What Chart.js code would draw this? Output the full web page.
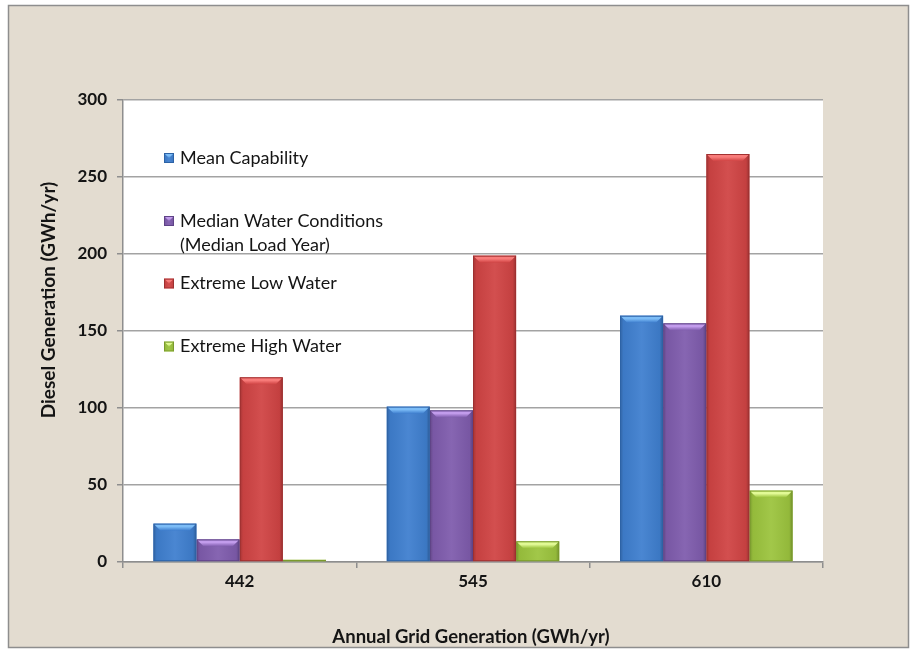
<!DOCTYPE html>
<html>
<head>
<meta charset="utf-8">
<script src="https://cdn.jsdelivr.net/npm/chart.js@4.4.1/dist/chart.umd.min.js"></script>
<style>
  html, body { margin: 0; padding: 0; background: #ffffff; overflow: hidden; }
  #c { display: block; }
</style>
</head>
<body>
<canvas id="c" width="917" height="654"></canvas>
<script>
// Annual grid generation scenarios (GWh/yr)
const categories = ['442', '545', '610'];

// Diesel generation per scenario (GWh/yr)
const meanCapability = [25, 101, 160];
const medianWater = [14.7, 98.5, 155];
const extremeLowWater = [120, 199, 265];
const extremeHighWater = [1.5, 13.5, 46.5];

const seriesLabels = ['Mean Capability', 'Median Water Conditions (Median Load Year)', 'Extreme Low Water', 'Extreme High Water'];
const legendLines = [['Mean Capability'], ['Median Water Conditions', '(Median Load Year)'], ['Extreme Low Water'], ['Extreme High Water']];

const yTicks = [0, 50, 100, 150, 200, 250, 300];
const yTitle = 'Diesel Generation (GWh/yr)';
const xTitle = 'Annual Grid Generation (GWh/yr)';

// face, light bevel, dark edge
const palette = [
  { face: '#3f7fcf', light: '#7cbcf6', dark: '#2d63a6' },
  { face: '#7f5cad', light: '#c29cec', dark: '#5f4387' },
  { face: '#d04444', light: '#f87c7a', dark: '#9e3030' },
  { face: '#9cc43e', light: '#e2fa96', dark: '#7a9a2c' }
];

const FONT = 'Lato, "Open Sans", "DejaVu Sans", sans-serif';
const TEXT = '#141414';

const framePlugin = {
  id: 'frame',
  beforeDraw(chart) {
    const ctx = chart.ctx;
    const a = chart.chartArea;
    ctx.save();
    ctx.fillStyle = '#ffffff';
    ctx.fillRect(0, 0, chart.width, chart.height);
    ctx.fillStyle = '#e3dcd0';
    ctx.fillRect(8, 5, 901, 643);
    ctx.strokeStyle = '#8e8e8e';
    ctx.lineWidth = 1.5;
    ctx.strokeRect(8.5, 5.5, 900, 642);
    ctx.fillStyle = '#ffffff';
    ctx.fillRect(a.left, a.top, a.right - a.left, a.bottom - a.top);
    ctx.restore();
  }
};

function bevel(ctx, left, top, right, bottom, col) {
  const w = right - left, h = bottom - top;
  if (h <= 0) return;
  ctx.save();
  ctx.beginPath();
  ctx.rect(left, top, w, h);
  ctx.clip();
  const g = ctx.createLinearGradient(left, 0, right, 0);
  g.addColorStop(0, 'rgba(0,0,0,0.22)');
  g.addColorStop(0.08, 'rgba(0,0,0,0.05)');
  g.addColorStop(0.5, 'rgba(255,255,255,0.06)');
  g.addColorStop(0.92, 'rgba(0,0,0,0.06)');
  g.addColorStop(1, 'rgba(0,0,0,0.28)');
  ctx.fillStyle = g;
  ctx.fillRect(left, top, w, h);
  const b = Math.min(6, h / 2);
  const tg = ctx.createLinearGradient(0, top, 0, top + b + 1);
  tg.addColorStop(0, col.light);
  tg.addColorStop(0.45, col.light);
  tg.addColorStop(1, col.face);
  ctx.fillStyle = tg;
  ctx.beginPath();
  ctx.moveTo(left + 1, top + 1);
  ctx.lineTo(right - 1, top + 1);
  ctx.lineTo(right - 1 - b, top + 1 + b);
  ctx.lineTo(left + 1 + b, top + 1 + b);
  ctx.closePath();
  ctx.fill();
  ctx.strokeStyle = col.dark;
  ctx.lineWidth = 1;
  ctx.strokeRect(left + 0.5, top + 0.5, w - 1, h - 1);
  ctx.restore();
}

const bevelPlugin = {
  id: 'bevel',
  afterDatasetsDraw(chart) {
    const ctx = chart.ctx;
    chart.data.datasets.forEach((ds, i) => {
      const meta = chart.getDatasetMeta(i);
      meta.data.forEach(bar => {
        const p = bar.getProps(['x', 'y', 'base', 'width'], true);
        bevel(ctx, p.x - p.width / 2, Math.min(p.y, p.base), p.x + p.width / 2, Math.max(p.y, p.base), palette[i]);
      });
    });
  }
};

function bevelBox(ctx, x, y, s, col) {
  ctx.save();
  ctx.fillStyle = col.face;
  ctx.fillRect(x, y, s, s);
  ctx.restore();
  bevel(ctx, x, y, x + s, y + s, col);
}

const legendPlugin = {
  id: 'customLegend',
  afterDraw(chart) {
    const ctx = chart.ctx;
    const rowY = [158, 221, 283.5, 346.5];
    legendLines.forEach((lines, i) => {
      const y = rowY[i];
      bevelBox(ctx, 164, y - 5, 10, palette[i]);
      ctx.save();
      ctx.font = '18px ' + FONT;
      ctx.fillStyle = TEXT;
      ctx.textBaseline = 'middle';
      ctx.textAlign = 'left';
      lines.forEach((t, k) => ctx.fillText(t, 180, y + k * 24));
      ctx.restore();
    });
  }
};

const titlePlugin = {
  id: 'axisTitles',
  afterDraw(chart) {
    const ctx = chart.ctx;
    ctx.save();
    ctx.fillStyle = TEXT;
    ctx.font = 'bold 18.5px ' + FONT;
    ctx.textAlign = 'center';
    ctx.textBaseline = 'middle';
    ctx.fillText(xTitle, 471, 637);
    ctx.font = 'bold 19px ' + FONT;
    ctx.translate(49, 300);
    ctx.rotate(-Math.PI / 2);
    ctx.fillText(yTitle, 0, 0);
    ctx.restore();
  }
};

const datasets = [meanCapability, medianWater, extremeLowWater, extremeHighWater].map((vals, i) => ({
  label: seriesLabels[i],
  data: vals,
  backgroundColor: palette[i].face,
  borderWidth: 0,
  categoryPercentage: 0.74,
  barPercentage: 1.0
}));

new Chart(document.getElementById('c'), {
  type: 'bar',
  data: { labels: categories, datasets },
  options: {
    responsive: false,
    animation: false,
    layout: { padding: { left: 0, top: 100, right: 94, bottom: 0 } },
    plugins: { legend: { display: false }, tooltip: { enabled: false } },
    scales: {
      x: {
        afterFit(s) { s.height = 92; },
        grid: { display: true, drawOnChartArea: false, drawTicks: true, tickLength: 6, color: '#8e8e8e', lineWidth: 1.5, offset: true },
        border: { display: true, color: '#8e8e8e', width: 1.5 },
        ticks: { color: TEXT, font: { family: FONT, size: 17, weight: 'bold' }, padding: 3 }
      },
      y: {
        min: 0,
        max: 300,
        afterFit(s) { s.width = 123; },
        afterBuildTicks(s) { s.ticks = yTicks.map(v => ({ value: v })); },
        grid: { color: '#a3a3a3', lineWidth: 1.5, drawTicks: true, tickLength: 6, tickColor: '#8e8e8e' },
        border: { display: true, color: '#8e8e8e', width: 1.5 },
        ticks: { color: TEXT, font: { family: FONT, size: 17, weight: 'bold' }, padding: 10 }
      }
    }
  },
  plugins: [framePlugin, bevelPlugin, legendPlugin, titlePlugin]
});
</script>
</body>
</html>
